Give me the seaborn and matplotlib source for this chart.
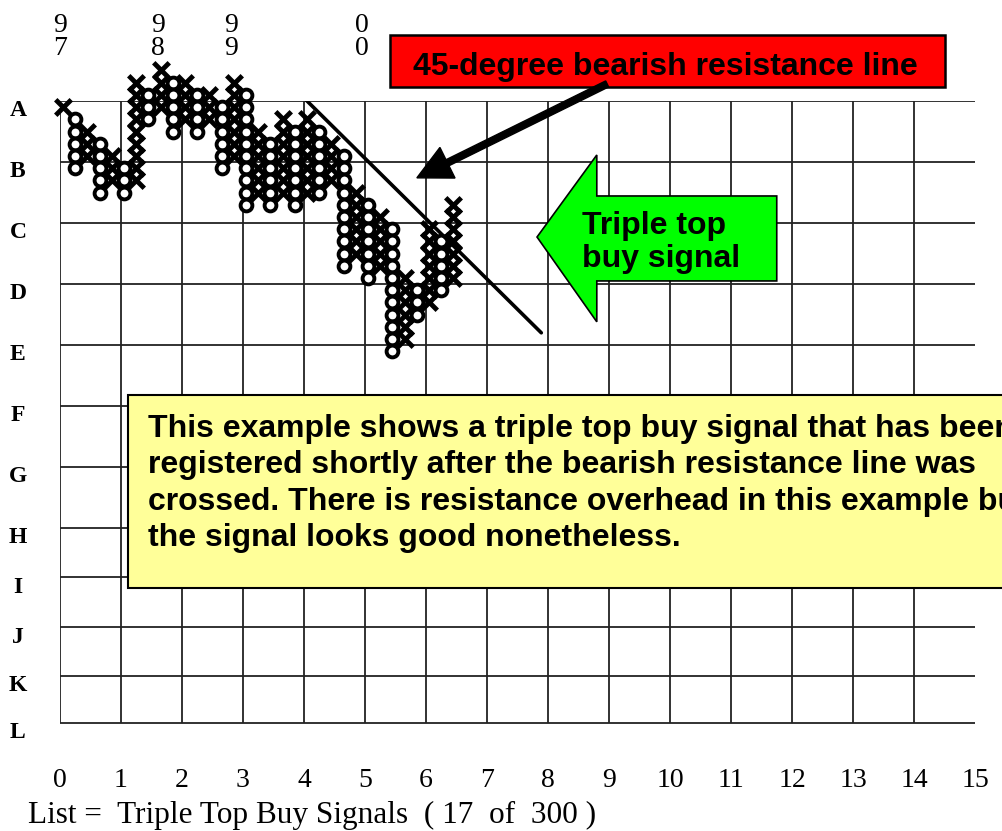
import numpy as np
import pandas as pd
import matplotlib
matplotlib.use("Agg")
import matplotlib.pyplot as plt
import seaborn as sns
from matplotlib.patches import Rectangle, Polygon

sns.set_style("white")
plt.rcParams['font.family'] = ['Liberation Serif', 'DejaVu Serif']
plt.rcParams['text.color'] = 'black'
plt.rcParams['xtick.color'] = 'black'

# point & figure columns, box rows counted down from the "A" line
col_kind = ['X', 'O', 'X', 'O', 'X', 'O', 'X', 'O', 'X', 'O', 'X',
            'O', 'X', 'O', 'X', 'O', 'X', 'O', 'X', 'O', 'X', 'O',
            'X', 'O', 'X', 'O', 'X', 'O', 'X', 'O', 'X', 'O', 'X']
col_top = [0, 1, 2, 3, 4, 5, -2, -1, -3, -2, -2,
           -1, -1, 0, -2, -1, 2, 3, 1, 2, 1, 2,
           3, 4, 7, 8, 9, 10, 14, 15, 10, 11, 8]
col_bottom = [0, 5, 4, 7, 6, 7, 6, 1, 0, 2, 1,
              2, 1, 5, 4, 8, 7, 8, 7, 8, 7, 7,
              6, 13, 12, 14, 13, 20, 19, 17, 16, 15, 14]

row_labels = list("ABCDEFGHIJKL")
row_lines = [0, 1, 2, 3, 4, 5, 6, 7, 7.81, 8.63, 9.43, 10.2]
x_labels = [str(i) for i in range(16)]
year_labels = ["9\n7", "9\n8", "9\n9", "0\n0"]
year_pos = [0.0, 1.6, 2.8, 4.95]

red_text = "45-degree bearish resistance line"
green_text = "Triple top\nbuy signal"
note_text = ("This example shows a triple top buy signal that has been\n"
             "registered shortly after the bearish resistance line was\n"
             "crossed. There is resistance overhead in this example but\n"
             "the signal looks good nonetheless.")
footer = "List =  Triple Top Buy Signals  ( 17  of  300 )"

BOX = 0.2
rows = []
for c, (kind, top, bot) in enumerate(zip(col_kind, col_top, col_bottom)):
    for k in range(top, bot + 1):
        rows.append({'x': 0.05 + BOX * c, 'y': 0.1 + BOX * k, 'kind': kind})
pf = pd.DataFrame(rows)

fig = plt.figure(figsize=(10.03, 8.31), dpi=100)
ax = fig.add_axes([60 / 1003, 107 / 831, 915 / 1003, 623 / 831])

# grid
ax.hlines(row_lines, 0, 15, color='#222222', lw=1.3, zorder=1)
ax.vlines(range(15), 0, row_lines[-1], color='#222222', lw=1.3, zorder=1)

# X and O boxes
sns.scatterplot(data=pf[pf.kind == 'O'], x='x', y='y', marker='o', s=72,
                color='black', facecolor='white', edgecolor='black',
                linewidth=2.8, ax=ax, zorder=3, legend=False, clip_on=False)
sns.scatterplot(data=pf[pf.kind == 'X'], x='x', y='y', marker='x', s=125,
                color='black', linewidth=3.5, ax=ax, zorder=3, legend=False,
                clip_on=False)

# 45 degree resistance line
ax.plot([4.03, 7.89], [-0.02, 3.80], color='black', lw=2.6, zorder=4)

ax.set_xlim(0, 15)
ax.set_ylim(623 / 61, 0)
for s in ax.spines.values():
    s.set_visible(False)
ax.set_xlabel('')
ax.set_ylabel('')
ax.set_yticks([])
ax.set_xticks(range(16), x_labels, fontsize=20)
ax.tick_params(axis='x', length=0, pad=32, labelcolor='black')

for lab, yl in zip(row_labels, row_lines):
    ax.text(-0.69, yl + 0.16, lab, ha='center', va='center', fontsize=17,
            fontweight='bold', clip_on=False)

for lab, xp in zip(year_labels, year_pos):
    ax.text(xp, -1.05, lab, ha='center', va='center', fontsize=20,
            linespacing=0.85, clip_on=False)

# red callout
ax.add_patch(Rectangle((5.41, -1.08), 9.1, 0.85, fc='#ff0000', ec='black',
                       lw=1.8, clip_on=False, zorder=5))
ax.text(9.92, -0.56, red_text, ha='center', va='center', fontsize=23,
        fontweight='bold', family=['Liberation Sans', 'DejaVu Sans'],
        zorder=6, clip_on=False)
ax.arrow(8.97, -0.28, 5.85 - 8.97, 1.26 + 0.28, width=0.11, head_width=0.56,
         head_length=0.56, length_includes_head=True, fc='black', ec='black',
         clip_on=False, zorder=7)

# green block arrow
green_pts = [(7.82, 2.23), (8.80, 0.885), (8.80, 1.557), (11.75, 1.557),
             (11.75, 2.95), (8.80, 2.95), (8.80, 3.62)]
ax.add_patch(Polygon(green_pts, closed=True, fc='#00ff00', ec='black',
                     lw=1.2, zorder=5))
ax.text(8.56, 2.32, green_text, ha='left', va='center', fontsize=23,
        fontweight='bold', family=['Liberation Sans', 'DejaVu Sans'],
        linespacing=1.15, zorder=6)

# yellow note
ax.add_patch(Rectangle((1.115, 4.82), 15, 3.16, fc='#ffff99', ec='black',
                       lw=1.5, clip_on=False, zorder=5))
ax.text(1.44, 6.27, note_text, ha='left', va='center', fontsize=23,
        fontweight='bold', family=['Liberation Sans', 'DejaVu Sans'],
        linespacing=1.27, zorder=6, clip_on=False)

fig.text(28 / 1003, 1 - 815 / 831, footer, ha='left', va='center',
         fontsize=22.5)

fig.savefig('out.png', dpi=100)
